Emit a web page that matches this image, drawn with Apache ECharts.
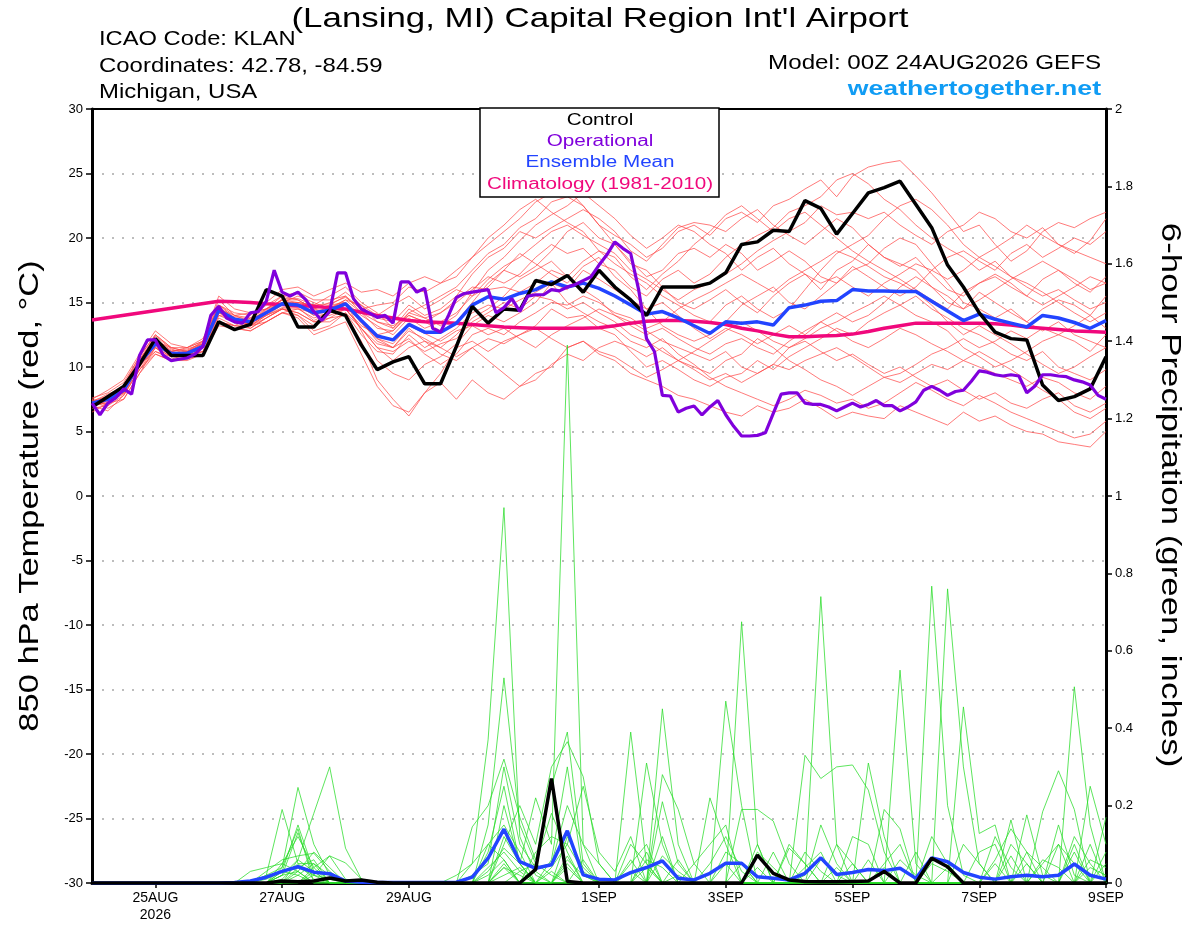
<!DOCTYPE html>
<html><head><meta charset="utf-8">
<script src="https://cdn.jsdelivr.net/npm/echarts@6/dist/echarts.min.js"></script>
<style>html,body{margin:0;padding:0;background:#fff}#c{width:1200px;height:927px}</style>
</head><body><div id="c"></div>
<script>
// ---- axis ticks (days after 24AUG2026 00Z) ----
const xTickDays = [1,3,5,8,10,12,14,16];
const xTickLabels = ['25AUG\n2026','27AUG','29AUG','1SEP','3SEP','5SEP','7SEP','9SEP'];

// ---- 6-hourly series (65 points, 24AUG 00Z .. 9SEP 00Z) ----
const controlTemp = [
 6.9,7.7,8.5,10.2,12.2,10.9,10.9,10.9,13.5,12.9,13.3,16.0,15.5,
 13.1,13.1,14.4,14.0,11.7,9.8,10.4,10.8,8.7,8.7,11.6,14.7,13.4,
 14.5,14.4,16.7,16.4,17.1,15.8,17.5,16.2,15.2,14.0,16.2,16.2,16.2,
 16.5,17.3,19.5,19.7,20.6,20.5,22.9,22.3,20.3,21.9,23.5,23.9,24.4,
 22.6,20.8,17.9,16.2,14.2,12.7,12.2,12.1,8.6,7.4,7.7,8.3,10.8];
const meanTemp = [
 7.2,7.5,8.2,10.3,11.8,11.05,11.05,11.6,14.4,13.7,13.5,14.2,14.9,
 14.8,14.2,14.4,14.9,13.6,12.4,12.1,13.3,12.7,12.7,13.4,14.8,15.45,
 15.25,15.7,16.0,16.6,16.2,16.5,16.1,15.5,14.8,14.1,14.3,13.8,13.2,
 12.6,13.5,13.4,13.5,13.25,14.6,14.8,15.1,15.15,16.0,15.9,15.9,15.85,
 15.85,15.1,14.35,13.6,14.1,13.7,13.4,13.1,14.0,13.8,13.45,13.0,13.6];
const climTemp = [
 13.65,null,null,null,null,null,null,null,15.1,15.05,15.0,14.9,14.85,
 14.75,14.7,14.6,14.5,14.25,14.0,13.8,13.6,13.5,13.45,13.4,13.3,13.2,
 13.1,13.05,13.0,13.0,13.0,13.0,13.05,13.2,13.4,13.55,13.6,13.6,13.55,
 13.45,13.3,13.0,12.8,12.55,12.35,12.35,12.4,12.45,12.55,12.75,13.0,13.2,
 13.4,13.4,13.4,13.4,13.4,13.35,13.25,13.1,13.0,12.9,12.8,12.75,12.7];
// operational: 3-hourly (129 points)
const operTemp = [
 7.2,6.3,7.2,7.6,8.3,7.9,10.9,12.1,12.1,10.9,10.5,10.6,10.7,11.0,11.6,14.0,
 14.7,13.8,13.5,13.4,14.2,14.3,15.1,17.5,15.8,15.5,15.8,15.2,14.3,13.6,14.3,17.3,
 17.3,15.3,14.5,14.2,13.85,14.0,13.4,16.6,16.6,15.8,16.1,13.0,12.7,14.0,15.4,15.7,
 15.8,15.9,16.0,14.2,14.6,15.3,14.3,15.5,15.6,15.6,16.0,15.9,16.2,16.4,16.7,17.0,
 17.9,18.7,19.7,19.2,18.8,16.0,12.2,11.2,7.8,7.75,6.5,6.8,6.98,6.28,6.9,7.4,
 6.3,5.4,4.65,4.65,4.7,4.9,6.4,7.9,8.0,8.0,7.2,7.1,7.1,6.9,6.6,6.9,
 7.2,6.9,7.1,7.4,7.0,7.0,6.6,6.9,7.3,8.2,8.5,8.2,7.8,8.1,8.2,8.9,
 9.7,9.6,9.4,9.3,9.4,9.3,8.0,8.5,9.4,9.4,9.3,9.25,9.0,8.85,8.6,7.8,
 7.5];

const controlPrecip = [
 0,0,0,0,0,0,0,0,0,0,0,0,0.005,
 0.003,0.005,0.013,0.005,0.008,0.002,0,0,0,0,0,0,0,
 0,0,0.035,0.27,0.004,0,0,0,0,0,0,0,0,
 0,0,0,0.072,0.025,0.008,0.004,0.003,0.003,0.004,0.005,0.03,0,
 0,0.064,0.042,0,0,0,0,0,0,0,0,0,0];
const meanPrecip = [
 0,0,0,0,0,0,0,0,0,0.001,0.005,0.015,0.03,
 0.042,0.028,0.024,0.005,0.002,0.001,0.001,0.001,0.001,0.001,0.002,0.015,0.064,
 0.139,0.055,0.038,0.047,0.135,0.021,0.01,0.008,0.027,0.04,0.057,0.012,0.008,
 0.025,0.051,0.051,0.016,0.012,0.008,0.025,0.065,0.022,0.027,0.035,0.032,0.038,
 0.012,0.065,0.055,0.027,0.015,0.01,0.016,0.02,0.016,0.02,0.049,0.02,0.01];

// ---- ensemble members: 850 hPa temperature ----
const tempMember01 = [7.0,7.8,8.6,10.8,12.5,11.5,11.2,12.0,15.2,14.0,13.8,14.8,15.5, 15.2,14.5,15.0,15.8,14.8,13.5,13.0,14.2,14.8,15.5,16.2,17.5,18.8, 19.5,20.8,21.5,22.8,23.2,22.5,21.0,20.2,19.5,18.5,19.2,20.5,21.0, 20.2,21.5,22.0,21.2,22.5,23.0,23.8,24.5,23.2,24.8,25.5,25.8,26.0, 24.8,23.5,22.0,20.5,21.0,19.5,18.2,19.0,20.5,21.2,20.8,21.5,22.0];
const tempMember02 = [7.4,6.8,7.5,9.5,11.0,10.5,10.8,11.2,13.5,13.0,12.8,13.5,14.2, 13.8,12.5,13.0,13.5,11.0,8.5,7.0,6.5,8.0,8.8,7.5,9.0,8.0, 7.5,8.5,9.5,10.0,11.5,12.0,11.0,10.5,9.5,9.0,8.5,7.8,7.5, 7.0,6.5,6.2,7.0,6.5,6.8,7.5,6.8,6.0,6.5,6.2,6.0,7.0, 6.5,6.0,5.5,6.5,5.8,6.2,5.5,5.0,4.8,4.2,4.0,3.8,5.0];
const tempMember03 = [7.2,7.5,8.0,10.0,11.5,10.8,11.0,11.5,14.0,13.8,13.2,14.0,14.5, 14.5,13.8,14.2,14.8,13.5,12.0,11.5,13.0,12.0,11.5,12.5,13.8,14.5, 15.5,16.8,17.5,18.2,17.0,16.0,15.2,14.0,13.5,12.8,12.0,11.5,11.0, 10.5,11.2,10.0,9.5,10.2,11.5,12.0,11.2,10.5,11.0,10.2,9.5,10.0, 9.2,8.5,9.0,8.2,7.5,8.0,7.2,6.8,7.5,8.0,7.0,6.5,7.2];
const tempMember04 = [7.0,7.2,8.5,10.5,12.0,11.2,11.5,12.2,14.8,14.2,14.0,15.0,16.0, 16.2,15.5,16.0,16.5,15.8,16.0,15.5,16.5,17.0,16.5,17.5,18.5,19.5, 20.5,21.5,22.8,23.5,23.8,22.5,21.0,19.5,18.0,17.5,16.2,15.0,14.5, 15.2,16.0,15.0,14.2,15.5,16.5,17.2,16.0,17.5,18.2,19.5,18.5,17.8, 18.5,17.2,16.0,15.5,16.5,17.0,16.2,15.5,16.8,17.5,16.5,15.8,17.0];
const tempMember05 = [7.5,8.2,9.0,11.0,12.8,11.8,11.5,12.0,15.5,14.5,14.2,14.5,15.2, 15.0,14.8,15.5,16.2,15.0,14.2,13.0,14.5,13.8,14.2,15.0,16.0,17.0, 16.5,17.2,18.5,19.5,18.8,19.2,18.0,17.5,16.2,15.5,16.8,17.5,16.5, 17.2,18.5,19.5,20.2,20.8,22.0,22.5,23.2,24.5,25.0,24.2,23.0,22.2, 21.0,20.0,19.2,18.5,17.5,18.2,17.0,16.2,15.5,16.0,15.2,14.5,15.0];
const tempMember06 = [6.8,7.0,7.8,9.8,11.5,10.5,10.5,11.0,13.5,13.2,13.0,13.8,14.5, 14.2,13.5,13.8,14.0,12.0,9.0,7.5,6.2,8.0,9.5,11.5,12.0,11.2, 12.0,12.5,13.2,14.5,13.8,14.0,13.0,12.5,11.2,10.0,10.5,9.8,9.0, 8.5,9.2,9.5,10.5,9.8,10.8,11.5,12.2,13.0,12.5,13.5,14.2,14.8, 15.5,14.5,13.8,13.0,12.5,11.8,11.0,10.5,11.2,10.0,9.5,9.0,9.8];
const tempMember07 = [7.0,7.4,8.0,10.2,11.8,11.0,11.2,11.8,14.5,13.5,13.5,14.2,15.0, 15.5,15.0,14.5,15.2,14.8,14.0,14.8,15.5,14.5,15.2,16.0,15.5,16.2, 17.5,18.8,18.0,17.2,16.5,17.8,18.5,17.0,16.0,14.5,13.2,12.5,12.0, 12.5,13.5,14.8,15.5,16.2,15.0,14.5,15.5,16.5,17.5,18.0,19.2,20.0, 19.5,18.0,16.5,15.0,14.5,13.8,14.5,13.5,12.8,13.5,12.5,12.0,11.5];
const tempMember08 = [7.5,7.0,8.2,10.2,11.2,10.8,10.8,11.2,13.8,13.2,13.8,14.5,15.2, 14.8,14.0,14.8,15.0,12.8,10.5,9.5,9.0,10.2,10.8,11.8,13.2,14.0, 13.5,14.2,15.0,16.5,16.0,17.5,16.8,16.0,15.2,14.5,15.0,14.0,13.0, 12.2,13.0,12.5,11.8,12.5,13.2,12.5,13.5,14.2,13.5,14.0,15.0,16.2, 17.0,16.2,15.0,14.5,15.8,15.0,14.2,13.5,14.5,15.2,14.8,14.0,15.5];
const tempMember09 = [7.2,7.8,8.5,10.5,12.2,11.2,11.0,11.5,14.2,13.5,13.2,14.0,14.8, 15.0,14.5,14.2,14.5,13.2,12.5,12.8,14.0,13.5,12.8,13.5,15.0,16.5, 17.5,17.0,17.8,19.0,20.5,21.2,20.0,19.5,18.2,17.0,17.5,18.8,19.2, 18.5,19.5,18.8,17.5,18.2,19.0,18.2,17.0,16.5,17.8,17.0,16.2,15.5, 16.2,17.5,18.5,19.0,18.2,17.5,18.8,19.5,18.5,19.2,20.0,19.5,20.5];
const tempMember10 = [6.5,7.2,7.5,9.5,11.5,10.8,11.0,11.2,14.0,13.5,13.0,13.8,14.5, 14.0,12.8,13.2,14.2,13.0,11.5,10.5,11.5,12.0,11.0,10.5,11.5,10.5, 9.5,8.5,9.0,10.2,11.0,10.5,11.5,12.0,11.5,10.8,11.5,10.5,10.0, 9.5,10.5,11.0,12.2,11.5,10.5,9.8,9.0,8.5,7.8,8.5,9.2,8.8, 9.5,10.2,9.8,10.5,11.2,10.5,9.8,9.0,8.2,7.5,6.5,6.0,6.8];
const tempMember11 = [7.3,7.6,8.3,10.5,12.0,11.5,11.5,12.0,14.8,14.0,14.2,14.5,15.0, 15.0,14.8,14.5,15.0,14.0,13.2,12.5,13.8,13.0,13.5,14.2,15.5,16.8, 17.8,18.5,19.5,20.5,21.0,20.2,19.5,18.8,17.5,16.8,16.0,15.2,16.0, 16.5,17.2,18.0,19.0,19.8,20.5,21.2,22.5,21.8,22.0,21.5,22.0,21.0, 20.2,19.5,20.5,21.0,22.0,21.5,20.5,20.0,20.8,19.5,19.0,18.5,18.0];
const tempMember12 = [7.1,7.3,7.9,9.8,11.2,10.6,11.0,11.5,13.5,13.2,13.2,13.8,14.5, 14.2,13.5,13.5,14.2,12.5,11.2,11.0,12.5,11.5,12.2,13.0,14.2,14.8, 14.5,15.2,15.8,16.5,15.0,14.2,13.5,13.0,12.0,11.5,12.2,11.0,10.2, 9.2,8.5,8.0,7.5,7.0,7.5,8.2,7.8,7.2,7.5,6.8,7.2,8.0, 8.8,8.2,7.5,7.0,7.8,7.2,6.5,6.0,5.5,5.0,4.5,4.8,5.8];
const tempMember13 = [7.6,8.0,8.8,10.8,12.5,11.5,11.2,11.8,14.5,14.0,13.5,14.5,15.5, 15.8,15.2,15.2,15.5,14.5,13.8,13.5,14.8,14.0,14.5,15.5,17.2,18.5, 19.2,20.5,20.0,20.8,21.5,22.2,21.5,20.5,19.0,18.2,19.5,20.8,21.2, 21.0,20.5,21.5,22.2,21.0,20.2,19.5,20.5,21.5,20.8,19.5,18.5,18.0, 17.5,16.2,15.5,14.5,15.2,16.0,16.8,17.5,18.2,17.5,16.8,16.0,16.5];
const tempMember14 = [6.9,7.5,8.0,10.0,11.8,11.0,10.8,11.5,14.2,13.8,13.2,13.5,14.2, 14.5,14.2,14.0,14.5,13.0,11.5,11.2,12.0,11.2,11.8,12.2,13.5,14.2, 15.0,14.5,15.5,15.2,14.5,15.0,14.2,13.5,12.5,12.0,11.2,10.5,9.8, 9.0,9.5,8.8,9.5,10.2,9.8,10.5,11.0,11.5,10.8,10.0,9.2,9.5, 10.2,11.0,11.5,12.2,11.5,12.0,12.8,12.2,13.0,12.5,12.0,11.2,12.5];
const tempMember15 = [7.3,7.9,8.4,10.4,12.0,11.2,11.4,11.8,14.8,13.8,13.5,14.2,15.2, 15.2,14.5,14.8,15.5,14.2,13.5,13.2,14.0,13.5,14.2,15.2,16.2,16.0, 16.2,15.8,16.5,17.5,17.0,18.2,19.0,18.0,17.2,16.5,15.5,14.8,14.0, 13.5,14.8,15.5,14.5,13.8,14.5,16.0,17.5,18.8,19.5,20.2,21.5,22.5, 23.0,22.2,21.0,19.5,18.5,17.8,17.0,16.5,15.8,15.0,14.2,13.5,14.2];
const tempMember16 = [7.0,6.6,7.8,9.8,11.0,10.5,10.6,11.0,13.2,13.0,12.8,13.5,14.2, 14.0,13.2,13.8,14.5,13.0,11.8,11.5,12.8,12.2,11.5,10.8,11.5,12.2, 11.8,12.5,13.0,12.2,11.5,12.0,11.2,10.8,10.0,9.2,9.8,10.5,11.2, 12.0,12.8,13.5,12.8,12.0,11.5,12.2,13.0,13.5,14.2,14.8,15.5,14.8, 14.0,13.5,12.8,11.5,10.8,10.0,10.5,11.2,12.0,12.5,13.2,14.0,13.0];
const tempMember17 = [7.4,7.7,8.6,10.6,12.4,11.4,11.0,11.6,14.4,13.6,13.6,14.4,15.0, 14.8,14.0,14.6,15.2,14.2,13.0,12.8,14.2,13.8,13.2,14.0,15.8,17.5, 18.5,19.8,21.0,21.8,22.5,23.5,22.5,21.5,20.2,19.2,20.0,21.0,20.5, 19.5,18.8,17.5,18.5,19.2,18.0,17.2,16.5,17.0,16.2,15.5,16.5,17.2, 18.0,17.5,16.8,17.5,18.5,19.2,20.0,21.0,20.2,19.5,18.8,19.8,21.5];
const tempMember18 = [7.1,7.4,8.1,10.1,11.6,10.9,11.3,11.9,14.6,13.4,13.4,14.0,14.6, 14.6,13.6,14.2,14.8,13.4,12.2,11.8,13.2,12.6,12.0,12.8,13.2,12.5, 13.0,12.2,11.5,12.5,13.2,13.8,14.5,14.0,13.2,12.5,13.0,12.2,11.5, 11.0,11.8,12.2,11.5,11.0,12.0,12.8,13.5,12.8,12.0,11.5,12.2,13.0, 12.5,11.8,11.2,10.5,10.0,9.5,9.0,8.5,9.2,8.8,8.0,7.5,8.5];
const tempMember19 = [7.2,7.6,8.2,10.3,11.9,11.1,11.0,11.6,14.2,13.9,13.7,14.3,14.9, 14.9,14.3,14.6,15.0,13.5,12.2,11.5,12.2,11.0,10.2,11.0,12.5,13.0, 12.5,13.5,14.2,15.0,14.8,15.5,15.0,14.2,13.8,13.0,13.5,14.5,15.2, 15.8,16.5,17.2,16.5,15.8,16.8,17.5,18.2,19.0,18.5,17.8,17.0,16.5, 15.8,14.8,13.5,12.5,13.2,12.5,11.8,11.0,10.2,9.5,10.0,10.8,11.5];
const tempMember20 = [7.3,7.1,8.4,10.6,12.2,11.3,11.2,11.7,14.6,13.8,13.3,14.1,15.3, 15.3,14.8,14.9,15.4,14.5,14.8,15.0,16.2,15.8,16.5,17.0,18.5,20.0, 21.0,22.2,23.0,22.0,21.2,20.5,19.0,18.5,17.0,16.0,17.2,18.2,19.5, 20.5,21.8,22.5,21.5,20.5,21.5,22.0,21.0,20.0,19.0,18.2,17.5,16.8, 16.0,15.2,14.5,15.8,16.5,17.2,16.5,15.5,14.8,15.5,16.2,17.0,16.5];

// ---- ensemble members: 6-hour precipitation (inches) ----
const precipMember01 = [0,0,0,0,0,0,0,0,0,0,0,0.02,0.19, 0.05,0.01,0,0,0,0,0,0,0,0,0,0.05,0.37, 0.97,0.12,0.02,0,0,0,0,0,0.39,0.05,0,0,0, 0,0,0,0,0,0,0.02,0.74,0.1,0,0,0,0, 0,0,0,0,0,0.05,0,0,0,0,0.1,0,0];
const precipMember02 = [0,0,0,0,0,0,0,0,0,0,0,0,0.04, 0.247,0.1,0.02,0,0,0,0,0,0,0,0,0,0.15, 0.53,0.15,0.05,0.02,0,0,0,0,0,0,0.45,0.1,0, 0,0,0.05,0,0,0,0,0,0,0,0,0,0, 0,0.767,0.2,0.02,0,0,0,0,0.05,0.1,0,0,0];
const precipMember03 = [0,0,0,0,0,0,0,0,0,0,0,0,0, 0.06,0.18,0.3,0.09,0.01,0,0,0,0,0,0,0.145,0.2, 0.32,0.17,0.06,0.25,0.39,0.05,0,0,0,0.31,0.1,0,0, 0,0.47,0.2,0,0,0,0,0,0,0,0.31,0.12,0, 0,0,0,0,0,0,0,0,0,0,0.507,0.15,0];
const precipMember04 = [0,0,0,0,0,0,0,0,0,0,0,0,0.03, 0.15,0.03,0,0,0,0,0,0,0,0,0,0,0.08, 0.25,0.05,0.22,0.1,1.39,0.1,0,0,0,0,0.28,0.19,0.05, 0,0,0,0,0,0,0.33,0.27,0.3,0.305,0.24,0.08,0, 0,0,0,0,0,0,0.163,0,0,0,0,0,0];
const precipMember05 = [0,0,0,0,0,0,0,0,0,0,0.03,0.04,0.05, 0.12,0.04,0,0,0,0,0,0,0,0,0,0,0, 0.1,0.2,0.1,0.3,0.365,0.275,0.05,0,0,0,0.21,0.05,0, 0,0,0.675,0.1,0,0,0,0,0,0,0,0,0.55, 0.05,0,0,0,0,0,0,0.176,0.02,0,0,0,0];
const precipMember06 = [0,0,0,0,0,0,0,0,0,0,0,0.03,0.06, 0.07,0.077,0.03,0,0,0,0,0,0,0,0,0,0.1, 0.15,0.08,0,0,0.12,0.04,0,0,0,0,0,0,0, 0.22,0.1,0,0,0,0.09,0.05,0,0,0,0,0,0, 0,0,0.76,0.3,0.05,0,0,0,0,0,0,0.25,0.1];
const precipMember07 = [0,0,0,0,0,0,0,0,0,0,0,0,0.02, 0.13,0.02,0.07,0.01,0,0,0,0,0,0,0,0.02,0.05, 0.3,0.1,0.04,0.05,0.2,0.1,0.05,0,0.05,0.1,0,0,0, 0,0,0.19,0.19,0.16,0.05,0,0,0,0,0,0.19,0.14, 0,0,0,0.455,0.128,0.15,0,0,0,0,0,0,0.17];
const precipMember08 = [0,0,0,0,0,0,0,0,0,0,0,0,0, 0,0.04,0.07,0.052,0.01,0,0,0,0,0,0,0,0, 0.05,0,0.08,0.12,0.1,0.25,0.08,0.03,0.12,0,0,0,0.05, 0.1,0.15,0,0,0,0,0,0,0.1,0.05,0,0,0, 0,0.12,0.05,0,0,0,0,0,0.184,0.29,0.19,0,0];
const precipMember09 = [0,0,0,0,0,0,0,0,0,0,0,0,0.05, 0.03,0,0,0,0,0,0,0,0,0,0,0,0.03, 0.09,0.05,0,0,0.06,0.02,0,0,0,0,0.12,0,0, 0,0.08,0.05,0,0,0,0,0.15,0.05,0,0,0,0, 0,0,0,0,0.08,0.1,0,0,0,0,0.12,0.05,0];
const precipMember10 = [0,0,0,0,0,0,0,0,0,0,0,0,0, 0.04,0.06,0,0,0,0,0,0,0,0,0,0,0, 0.2,0.05,0,0.06,0.3,0.02,0,0,0,0.08,0,0,0, 0,0,0,0.1,0,0,0,0,0,0.12,0.1,0,0, 0,0,0,0,0,0,0.1,0.05,0,0,0,0,0.08];
const precipMember11 = [0,0,0,0,0,0,0,0,0,0,0,0.02,0.04, 0.14,0,0,0,0,0,0,0,0,0,0.02,0.05,0.1, 0.06,0,0,0,0,0,0,0,0,0,0,0.06,0, 0,0,0,0,0,0.1,0.05,0,0,0,0,0,0, 0.08,0,0,0,0,0,0,0,0,0.1,0.05,0,0];
const precipMember12 = [0,0,0,0,0,0,0,0,0,0,0,0,0.03, 0.02,0,0,0,0,0,0,0,0,0,0,0,0, 0,0.03,0.05,0.18,0.08,0,0,0,0.1,0.05,0,0,0, 0,0,0,0,0.08,0,0,0,0,0,0,0.05,0.1, 0,0,0,0,0,0.12,0.04,0,0,0,0,0,0];
const precipMember13 = [0,0,0,0,0,0,0,0,0,0,0,0.01,0.03, 0.04,0.02,0,0,0,0,0,0,0,0,0,0,0, 0.04,0,0,0,0.05,0,0,0,0,0,0.07,0.03,0, 0,0,0,0,0,0,0.04,0.08,0,0,0,0,0, 0,0,0,0,0,0,0,0.08,0.04,0,0,0.06,0.04];
const precipMember14 = [0,0,0,0,0,0,0,0,0,0,0,0,0, 0.02,0.05,0.02,0,0,0,0,0,0,0,0,0,0, 0,0,0,0.03,0,0.06,0,0,0,0.04,0,0,0, 0.05,0.12,0.03,0,0,0,0,0,0,0,0.06,0,0, 0,0,0,0.1,0.05,0,0,0,0,0.15,0.02,0,0];
const precipMember15 = [0,0,0,0,0,0,0,0,0,0,0,0,0.02, 0.06,0.03,0,0,0,0,0,0,0,0,0,0,0, 0.12,0.05,0,0,0,0,0,0,0.06,0,0,0,0, 0,0,0,0.08,0.04,0,0,0,0,0.05,0,0,0, 0,0,0,0,0,0.06,0.14,0.08,0,0,0,0.1,0];
const precipMember16 = [0,0,0,0,0,0,0,0,0,0,0,0,0, 0.03,0.08,0.04,0,0,0,0,0,0,0,0,0,0.04, 0.08,0.03,0,0,0.04,0,0,0,0,0,0,0,0, 0,0.05,0,0,0,0,0.08,0.03,0,0,0,0.04,0, 0,0.05,0.03,0,0,0,0,0,0.06,0.04,0,0,0.05];
const precipMember17 = [0,0,0,0,0,0,0,0,0,0,0,0,0.01, 0.05,0.05,0,0,0,0,0,0,0,0,0,0,0.02, 0.06,0,0,0.04,0.1,0.03,0,0,0.03,0,0,0,0, 0,0,0,0.04,0,0,0,0,0.04,0,0,0,0.06, 0.02,0,0,0,0,0,0.07,0,0,0,0.08,0,0];
const precipMember18 = [0,0,0,0,0,0,0,0,0,0,0,0,0, 0,0.02,0.01,0,0,0,0,0,0,0,0,0,0, 0.02,0.04,0,0,0,0,0,0,0,0.06,0.04,0,0, 0,0,0,0,0,0,0,0,0,0,0,0,0, 0,0,0.04,0,0,0,0,0,0,0,0,0,0];
const precipMember19 = [0,0,0,0,0,0,0,0,0,0,0,0,0.02, 0.03,0,0,0,0,0,0,0,0,0,0,0,0, 0,0,0.03,0,0.07,0,0,0,0,0,0,0.02,0, 0,0,0,0,0,0,0,0.06,0.02,0,0,0,0, 0,0,0,0,0,0,0,0,0,0,0,0.04,0.02];
const precipMember20 = [0,0,0,0,0,0,0,0,0,0,0,0,0, 0,0.03,0.02,0,0,0,0,0,0,0,0,0,0, 0.04,0.02,0,0,0,0,0,0,0,0,0,0,0, 0,0,0,0,0,0,0,0,0,0,0,0,0, 0,0,0,0,0,0,0,0.05,0,0,0,0,0];

const tempMembers = [tempMember01,tempMember02,tempMember03,tempMember04,tempMember05,tempMember06,tempMember07,tempMember08,tempMember09,tempMember10,
  tempMember11,tempMember12,tempMember13,tempMember14,tempMember15,tempMember16,tempMember17,tempMember18,tempMember19,tempMember20];
const precipMembers = [precipMember01,precipMember02,precipMember03,precipMember04,precipMember05,precipMember06,precipMember07,precipMember08,precipMember09,precipMember10,
  precipMember11,precipMember12,precipMember13,precipMember14,precipMember15,precipMember16,precipMember17,precipMember18,precipMember19,precipMember20];

// ---- build chart ----
const FONT = '"Liberation Sans", Arial, sans-serif';
const pairs = (arr, stepDays) => arr.map((v, i) => [i * stepDays, v]);

function line(data, yIdx, color, width, z, extra) {
  return Object.assign({
    type: 'line', data, yAxisIndex: yIdx, showSymbol: false, symbol: 'none', silent: true,
    lineStyle: { color, width }, itemStyle: { color }, z, animation: false
  }, extra || {});
}

const series = [];
tempMembers.forEach(m => series.push(line(pairs(m, 0.25), 0, 'rgba(255,70,70,0.9)', 0.8, 2)));
precipMembers.forEach(m => series.push(line(pairs(m, 0.25), 1, 'rgba(40,220,40,0.95)', 0.8, 2)));
series.push(line(pairs(meanPrecip, 0.25), 1, '#2244ff', 3.5, 5));
series.push(line(pairs(controlPrecip, 0.25), 1, '#000000', 3.5, 6));
series.push(line(pairs(climTemp, 0.25), 0, '#f0087c', 3.5, 4, { connectNulls: true }));
series.push(line(pairs(meanTemp, 0.25), 0, '#2244ff', 3.5, 5));
series.push(line(pairs(controlTemp, 0.25), 0, '#000000', 3.5, 6));
series.push(line(pairs(operTemp, 0.125), 0, '#8000dc', 3.2, 7));

function txt(text, x, y, size, color, align, sx, extra) {
  return Object.assign({
    type: 'text', x, y, scaleX: sx, scaleY: 1, z: 100, silent: true,
    style: { text, fill: color, font: size + 'px ' + FONT, textAlign: align, align: align,
             textVerticalAlign: 'middle', verticalAlign: 'middle' }
  }, extra || {});
}

const graphics = [
  txt("(Lansing, MI) Capital Region Int'l Airport", 600, 19, 28, '#000', 'center', 1.245),
  txt('ICAO Code: KLAN', 99, 39.5, 21, '#000', 'left', 1.13),
  txt('Coordinates: 42.78, -84.59', 99, 66, 21, '#000', 'left', 1.14),
  txt('Michigan, USA', 99, 92, 21, '#000', 'left', 1.14),
  txt('Model: 00Z 24AUG2026 GEFS', 1101, 63.5, 21, '#000', 'right', 1.15),
  { type: 'text', x: 1101, y: 89, scaleX: 1.30, z: 100, silent: true,
    style: { text: 'weathertogether.net', fill: '#109cf4', font: 'bold 20.5px ' + FONT,
             textAlign: 'right', align: 'right', textVerticalAlign: 'middle', verticalAlign: 'middle' } },
  { type: 'rect', z: 90, silent: true, shape: { x: 480, y: 108, width: 239, height: 89 },
    style: { fill: '#fff', stroke: '#000', lineWidth: 1.5 } },
  txt('Control', 600, 121, 16, '#000', 'center', 1.29),
  txt('Operational', 600, 142, 16, '#8000dc', 'center', 1.29),
  txt('Ensemble Mean', 600, 163, 16, '#2244ff', 'center', 1.29),
  txt('Climatology (1981-2010)', 600, 185, 16, '#f0087c', 'center', 1.29),
  txt('850 hPa Temperature (red, °C)', 30, 496, 28, '#000', 'center', 1.23, { rotation: Math.PI / 2 }),
  txt('6-hour Precipitation (green, inches)', 1170, 495, 28, '#000', 'center', 1.245, { rotation: -Math.PI / 2 })
];

const chart = echarts.init(document.getElementById('c'), null, { renderer: 'canvas' });
chart.setOption({
  animation: false,
  backgroundColor: '#fff',
  grid: { left: 92, right: 94, top: 109, bottom: 44, show: true, borderColor: '#000', borderWidth: 2, backgroundColor: 'transparent' },
  xAxis: [{
    type: 'value', min: 0, max: 16,
    axisLine: { show: true, onZero: false, lineStyle: { color: '#000', width: 3 } },
    axisTick: { show: true, customValues: xTickDays, length: 5, lineStyle: { color: '#000', width: 1.5 } },
    axisLabel: {
      customValues: xTickDays, color: '#000', fontSize: 14, fontFamily: FONT, margin: 7, lineHeight: 17,
      formatter: v => { const k = xTickDays.indexOf(Math.round(v)); return k >= 0 ? xTickLabels[k] : ''; }
    },
    splitLine: { show: false }
  }, {
    type: 'value', min: 0, max: 16, position: 'top',
    axisLine: { show: true, onZero: false, lineStyle: { color: '#000', width: 2 } },
    axisTick: { show: false }, axisLabel: { show: false }, splitLine: { show: false }
  }],
  yAxis: [
    { type: 'value', min: -30, max: 30, interval: 5, position: 'left',
      axisLine: { show: true, onZero: false, lineStyle: { color: '#000', width: 3 } },
      axisTick: { show: true, length: 6, lineStyle: { color: '#000', width: 1.5 } },
      axisLabel: { color: '#000', fontSize: 13, fontFamily: FONT, margin: 9 },
      splitLine: { show: true, showMinLine: false, showMaxLine: false,
                   lineStyle: { color: '#a8a8a8', width: 1.5, type: [2, 8] } } },
    { type: 'value', min: 0, max: 2, interval: 0.2, position: 'right',
      axisLine: { show: true, onZero: false, lineStyle: { color: '#000', width: 3 } },
      axisTick: { show: true, length: 6, lineStyle: { color: '#000', width: 1.5 } },
      axisLabel: { color: '#000', fontSize: 13, fontFamily: FONT, margin: 9,
                   formatter: v => String(Math.round(v * 10) / 10) },
      splitLine: { show: false } }
  ],
  series,
  graphic: graphics
});
</script>
</body></html>
